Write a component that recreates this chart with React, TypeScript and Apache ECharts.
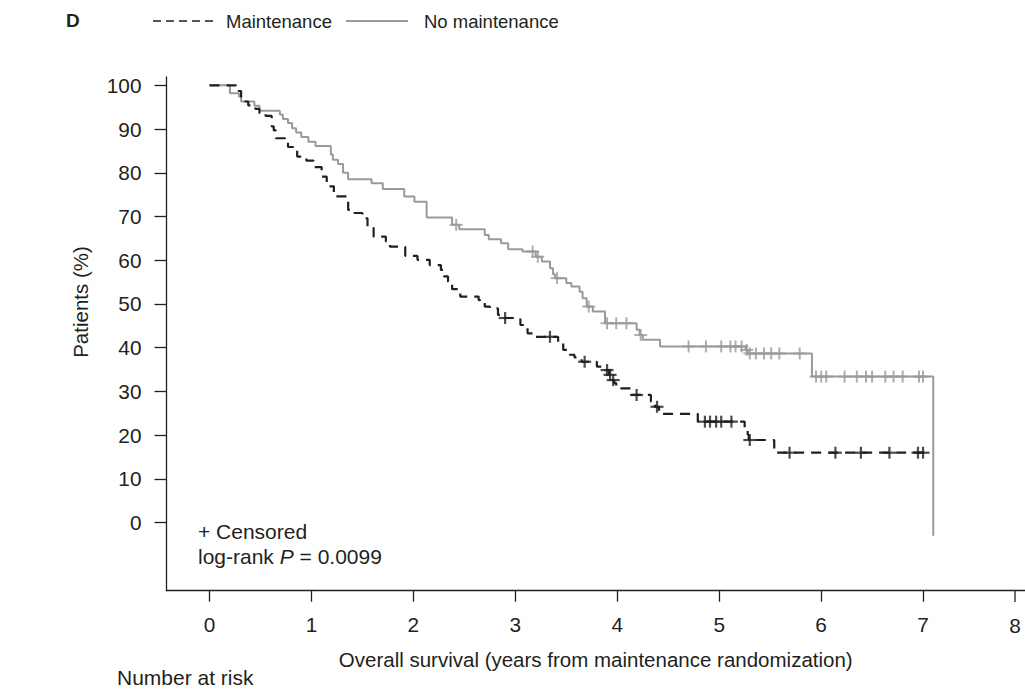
import React, { useEffect, useRef } from "react";
import * as echarts from "echarts";

const FONT = "'Liberation Sans', Arial, Helvetica, sans-serif";
const INK = "#231f20";
const GREY = "#9a9a9a";

// Axis ticks
const yearTicks = [0, 1, 2, 3, 4, 5, 6, 7];
const pctTicks = [0, 10, 20, 30, 40, 50, 60, 70, 80, 90, 100];

// Kaplan-Meier steps: [time in years, survival % after the event]
const maintenanceSteps: [number, number][] = [
  [0, 100], [0.26, 98.7], [0.31, 97.4], [0.35, 96.3], [0.38, 95.4], [0.45, 94.6],
  [0.49, 93.6], [0.55, 93.0], [0.61, 90.6], [0.63, 89.7], [0.65, 87.9], [0.74, 87.5],
  [0.77, 85.9], [0.82, 85.3], [0.86, 83.7], [0.95, 82.8], [1.02, 81.3], [1.10, 79.1],
  [1.15, 76.9], [1.22, 74.6], [1.36, 71.5], [1.42, 70.8], [1.50, 69.6], [1.55, 67.7],
  [1.61, 65.4], [1.73, 64.3], [1.77, 63.1], [1.92, 61.0], [2.04, 60.1], [2.16, 58.9],
  [2.27, 57.8], [2.30, 56.3], [2.34, 55.1], [2.38, 53.4], [2.46, 51.7], [2.64, 50.9],
  [2.70, 49.4], [2.75, 49.0], [2.83, 47.5], [2.88, 46.8], [3.05, 45.2], [3.12, 43.3],
  [3.17, 42.5], [3.42, 41.0], [3.47, 39.5], [3.52, 38.4], [3.58, 37.8], [3.65, 36.8],
  [3.80, 35.7], [3.87, 34.9], [3.92, 33.8], [3.95, 32.6], [3.97, 31.9], [3.99, 30.7],
  [4.14, 29.2], [4.33, 27.7], [4.37, 26.5], [4.41, 24.9], [4.79, 23.1], [5.25, 21.2],
  [5.28, 20.1], [5.29, 18.9], [5.54, 16.0],
];
const maintenanceLastFollowUp = 7.05;
const maintenanceCensored = [
  2.90, 3.34, 3.68, 3.90, 3.93, 3.96, 4.19, 4.39, 4.86, 4.91, 4.97, 5.02, 5.12,
  5.30, 5.69, 6.14, 6.39, 6.67, 6.95, 7.0,
];

const noMaintenanceSteps: [number, number][] = [
  [0, 100], [0.20, 98.2], [0.29, 97.4], [0.31, 96.3], [0.44, 95.3], [0.49, 94.2],
  [0.69, 93.3], [0.72, 92.3], [0.77, 91.4], [0.81, 90.2], [0.85, 89.2], [0.90, 88.2],
  [0.97, 87.1], [1.04, 86.1], [1.19, 84.2], [1.21, 83.0], [1.26, 82.0], [1.31, 80.0],
  [1.36, 78.5], [1.59, 77.6], [1.70, 76.3], [1.91, 74.6], [2.01, 73.4], [2.13, 69.8],
  [2.38, 68.1], [2.45, 67.1], [2.70, 65.8], [2.74, 64.8], [2.86, 63.9], [2.93, 62.5],
  [3.07, 62.0], [3.20, 60.8], [3.26, 59.7], [3.34, 58.2], [3.37, 56.8], [3.39, 55.9],
  [3.50, 54.8], [3.55, 54.0], [3.63, 52.8], [3.66, 51.3], [3.70, 49.4], [3.76, 48.3],
  [3.88, 45.6], [4.19, 44.1], [4.22, 42.9], [4.25, 41.8], [4.42, 40.3], [5.26, 39.5],
  [5.28, 38.7], [5.91, 33.4],
];
const noMaintenanceLastFollowUp = 7.1;
const noMaintenanceFinalDrop = -3;
const noMaintenanceCensored = [
  2.42, 3.17, 3.22, 3.41, 3.72, 3.90, 3.99, 4.09, 4.23, 4.70, 4.87, 5.02, 5.11,
  5.16, 5.22, 5.27, 5.30, 5.36, 5.44, 5.51, 5.59, 5.79, 5.95, 6.00, 6.05, 6.23,
  6.35, 6.44, 6.50, 6.63, 6.71, 6.80, 6.96, 7.0,
];

// Survival level of a step curve at time t
function levelAt(steps: [number, number][], t: number): number {
  let v = steps[0][1];
  for (const [st, sv] of steps) {
    if (st <= t) v = sv;
    else break;
  }
  return v;
}

function censorMarks(steps: [number, number][], times: number[]) {
  return times.map((t) => [t, levelAt(steps, t)]);
}

export default function App() {
  const ref = useRef<HTMLDivElement>(null);

  useEffect(() => {
    if (!ref.current) return;
    const chart = echarts.init(ref.current, null, { renderer: "svg" });

    const maintLine = [
      ...maintenanceSteps,
      [maintenanceLastFollowUp, maintenanceSteps[maintenanceSteps.length - 1][1]],
    ];
    const noMaintLast = noMaintenanceSteps[noMaintenanceSteps.length - 1][1];
    const noMaintLine = [
      ...noMaintenanceSteps,
      [noMaintenanceLastFollowUp, noMaintLast],
      [noMaintenanceLastFollowUp, noMaintenanceFinalDrop],
    ];
    const maintCens = censorMarks(maintenanceSteps, maintenanceCensored);
    const noMaintCens = censorMarks(noMaintenanceSteps, noMaintenanceCensored);

    const axisCommon = {
      type: "value" as const,
      splitLine: { show: false },
      axisLine: { show: true, onZero: false, lineStyle: { color: INK, width: 1.3 } },
      axisLabel: { color: INK, fontSize: 20.8, fontFamily: FONT },
      nameTextStyle: { color: INK, fontSize: 20.5, fontFamily: FONT },
    };

    const tick = (vertical: boolean, color: string, w: number) => ({
      type: "scatter",
      symbol: "rect",
      symbolSize: vertical ? [w, 12] : [13, w],
      itemStyle: { color },
      silent: true,
      z: 5,
    });

    chart.setOption({
      animation: false,
      grid: { left: 166.5, right: 0, top: 77, bottom: 98.3 },
      xAxis: {
        ...axisCommon,
        min: -0.422,
        max: 8,
        axisTick: { show: true, length: 11, customValues: yearTicks, lineStyle: { color: INK, width: 1.3 } },
        axisLabel: { ...axisCommon.axisLabel, margin: 23, customValues: yearTicks },
        name: "Overall survival (years from maintenance randomization)",
        nameLocation: "middle",
        nameGap: 58,
      },
      yAxis: {
        ...axisCommon,
        min: -15.55,
        max: 101.9,
        axisTick: { show: true, length: 12, customValues: pctTicks, lineStyle: { color: INK, width: 1.3 } },
        axisLabel: { ...axisCommon.axisLabel, margin: 25, customValues: pctTicks },
      },
      series: [
        {
          name: "No maintenance",
          type: "line",
          step: "end",
          data: noMaintLine,
          showSymbol: false,
          lineStyle: { color: GREY, width: 2 },
          z: 2,
        },
        { name: "No maintenance censored", ...tick(true, GREY, 2), data: noMaintCens },
        { name: "No maintenance censored h", ...tick(false, GREY, 2), data: noMaintCens },
        {
          name: "Maintenance",
          type: "line",
          step: "end",
          data: maintLine,
          showSymbol: false,
          lineStyle: { color: INK, width: 2.2, type: [10, 7] },
          z: 3,
        },
        { name: "Maintenance censored", ...tick(true, INK, 2.2), data: maintCens, z: 6 },
        { name: "Maintenance censored h", ...tick(false, INK, 2.2), data: maintCens, z: 6 },
      ],
      graphic: [
        // panel letter
        { type: "text", left: 66, top: 11, style: { text: "D", font: `bold 19px ${FONT}`, fill: INK } },
        // legend
        { type: "line", shape: { x1: 153, y1: 21, x2: 215, y2: 21 }, style: { stroke: INK, lineWidth: 1.7, lineDash: [8, 5] } },
        { type: "text", x: 226, y: 21, style: { text: "Maintenance", font: `18.5px ${FONT}`, fill: INK, verticalAlign: "middle" } },
        { type: "line", shape: { x1: 346, y1: 21, x2: 408, y2: 21 }, style: { stroke: GREY, lineWidth: 1.8 } },
        { type: "text", x: 424, y: 21, style: { text: "No maintenance", font: `18.5px ${FONT}`, fill: INK, verticalAlign: "middle" } },
        // y axis title, centred over the 0-100 range
        {
          type: "text",
          x: 80,
          y: 302,
          rotation: Math.PI / 2,
          style: { text: "Patients (%)", font: `20.5px ${FONT}`, fill: INK, align: "center", verticalAlign: "middle" },
        },
        // last x tick
        { type: "line", shape: { x1: 1015, y1: 591, x2: 1015, y2: 602 }, style: { stroke: INK, lineWidth: 1.3 } },
        { type: "text", x: 1015, y: 625, style: { text: "8", font: `20.8px ${FONT}`, fill: INK, align: "center", verticalAlign: "middle" } },
        // annotations
        { type: "text", x: 198, y: 531, style: { text: "+ Censored", font: `21px ${FONT}`, fill: INK, verticalAlign: "middle" } },
        {
          type: "text",
          x: 198,
          y: 556,
          style: {
            text: "log-rank {i|P} = 0.0099",
            font: `21px ${FONT}`,
            fill: INK,
            verticalAlign: "middle",
            rich: { i: { fontStyle: "italic", fontSize: 21, fontFamily: FONT, fill: INK } },
          },
        },
        { type: "text", x: 117, y: 677, style: { text: "Number at risk", font: `21px ${FONT}`, fill: INK, verticalAlign: "middle" } },
      ],
    });

    return () => chart.dispose();
  }, []);

  return (
    <div
      ref={ref}
      style={{ position: "absolute", left: 0, top: 0, width: 1025, height: 689, background: "#fff" }}
    />
  );
}
